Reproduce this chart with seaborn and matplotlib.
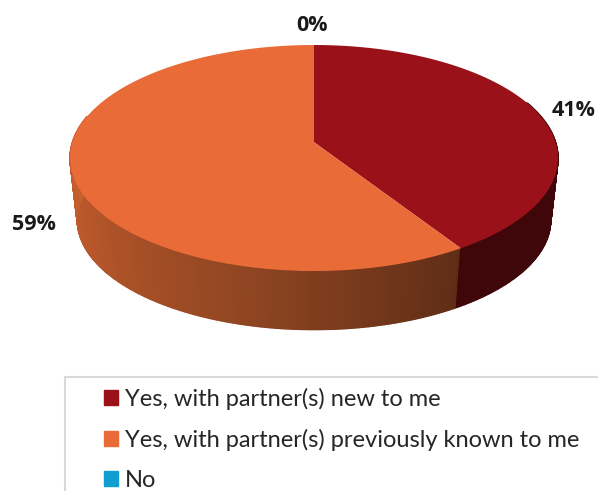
import numpy as np
import matplotlib
matplotlib.use('Agg')
import matplotlib.pyplot as plt
from matplotlib.patches import Patch, Rectangle
import seaborn as sns

# Chart data
categories = ['Yes, with partner(s) new to me', 'Yes, with partner(s) previously known to me', 'No']
values = [41, 59, 0]
pct_labels = ['41%', '59%', '0%']

top_colors = ['#9a1119', '#e96b38', '#0f9ed0']

sns.set_theme(style='white')
plt.rcParams['font.family'] = ['Lato', 'DejaVu Sans']

# Pie geometry in pixels
cx, cy = 314, 158
rx, ry = 244, 113
tilt = 0.14      # perspective, moves the centre of the disc up
depth = 62
shrink = 0.97    # bottom rim is a bit smaller


def project(angle, scale=1.0, drop=0.0):
    # angle in degrees, clockwise from 12 o'clock, on a disc seen in perspective
    a = np.radians(angle)
    u, v = np.sin(a), np.cos(a)
    w = 1 + tilt * v
    x = u / w * np.sqrt(1 - tilt ** 2)
    y = v / w * (1 - tilt ** 2) + tilt
    return cx + rx * scale * x, cy + drop - ry * scale * y


fig, ax = plt.subplots(figsize=(5.98, 4.91), dpi=100)
fig.subplots_adjust(0, 0, 1, 1)
ax.set_xlim(0, 598)
ax.set_ylim(491, 0)
ax.axis('off')

edges = np.cumsum([0] + values) / sum(values) * 360

# Outer wall, drawn in thin strips so it can be shaded
wall_ramp = sns.blend_palette(['#cc6230', '#b5562a', '#8f4522', '#5f2d16'], 256)
wall_start, wall_end = 68, 284
for th in np.arange(wall_start, wall_end, 0.5):
    xs0, ys0 = project(np.array([th, th + 0.5]))
    xs1, ys1 = project(np.array([th, th + 0.5]), shrink, depth)
    if th < edges[1]:
        col = '#3f0709'
    else:
        frac = (wall_end - th) / (wall_end - edges[1])
        col = wall_ramp[min(int(frac * 256), 255)]
    ax.fill([xs0[0], xs0[1], xs1[1], xs1[0]], [ys0[0], ys0[1], ys1[1], ys1[0]],
            color=col, lw=1.0, zorder=1)

# Top of the pie
for i, val in enumerate(values):
    if val == 0:
        continue
    angles = np.linspace(edges[i], edges[i + 1], 200)
    xs, ys = project(angles)
    ax.fill(np.r_[cx, xs], np.r_[cy - ry * tilt, ys], color=top_colors[i], lw=0, zorder=2)

# Percent labels
label_font = dict(fontsize=15.5, fontweight='bold', ha='center', va='center',
                  color='#1a1a1a', family=['Open Sans', 'DejaVu Sans'])
ax.text(574, 110, pct_labels[0], **label_font)
ax.text(34, 224, pct_labels[1], **label_font)
ax.text(312, 25, pct_labels[2], **label_font)

# Legend box runs off the right and bottom of the image
ax.add_patch(Rectangle((65, 377), 600, 200, fc='white', ec='#d9d9d9', lw=1.5, zorder=3))
handles = [Patch(color=c) for c in top_colors]
leg = ax.legend(handles, categories, loc='upper left', bbox_to_anchor=(104, 388),
                bbox_transform=ax.transData, frameon=False, fontsize=17,
                handlelength=0.6, handleheight=0.6, handletextpad=0.3,
                labelspacing=0.8, borderpad=0, borderaxespad=0)
leg.set_zorder(4)
for t in leg.get_texts():
    t.set_color('#262626')

fig.savefig('out.png', dpi=100)
